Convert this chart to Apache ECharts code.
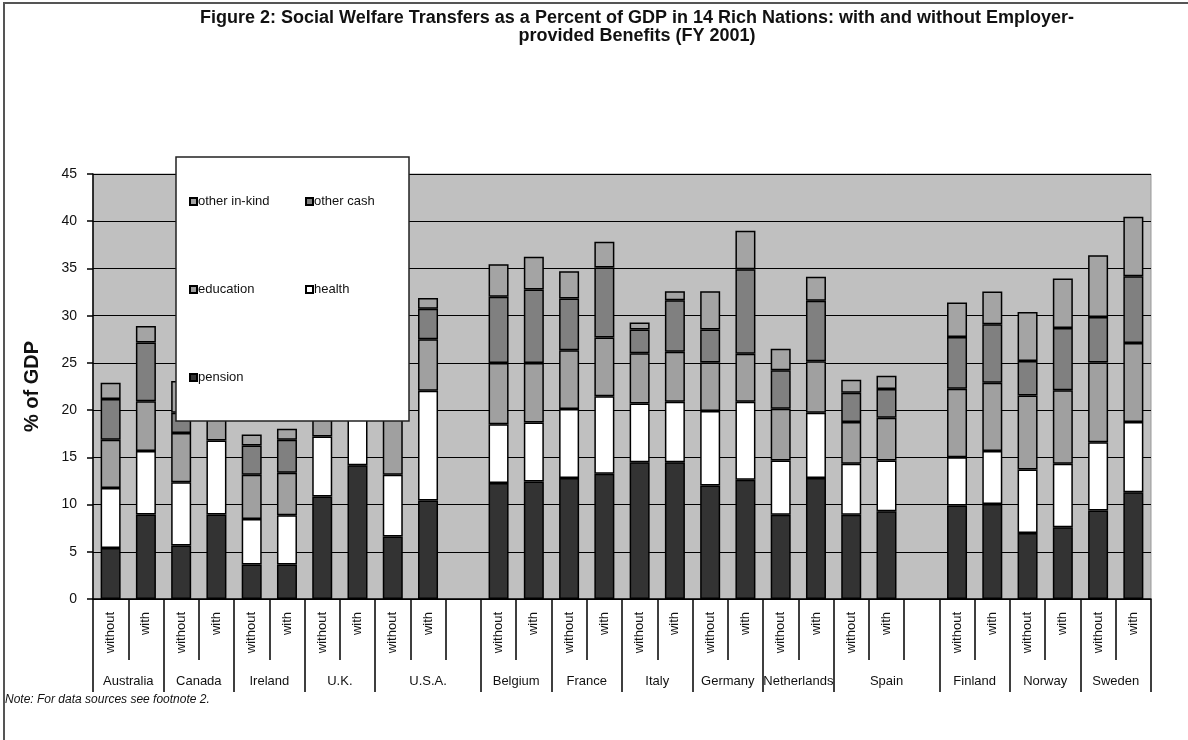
<!DOCTYPE html>
<html>
<head>
<meta charset="utf-8">
<script src="https://cdn.jsdelivr.net/npm/echarts@6/dist/echarts.min.js"></script>
<style>
  html, body { margin: 0; padding: 0; background: #fff; }
  #chart { width: 1188px; height: 740px; }
</style>
</head>
<body>
<div id="chart"></div>
<script>
// Bar slots along the x axis: two per country, plus an empty slot after U.S.A. and Spain
const slotLabels = [
  'without', 'with', 'without', 'with', 'without', 'with', 'without', 'with', 'without', 'with', '',
  'without', 'with', 'without', 'with', 'without', 'with', 'without', 'with', 'without', 'with', 'without', 'with', '',
  'without', 'with', 'without', 'with', 'without', 'with'
];

// Country groups: name and number of slots each spans
const groupNames = ['Australia', 'Canada', 'Ireland', 'U.K.', 'U.S.A.', 'Belgium', 'France', 'Italy',
  'Germany', 'Netherlands', 'Spain', 'Finland', 'Norway', 'Sweden'];
const groupSpans = [2, 2, 2, 2, 3, 2, 2, 2, 2, 2, 3, 2, 2, 2];

// % of GDP by programme (null = empty slot)
const pension = [5.41, 8.94, 5.66, 8.94, 3.64, 3.64, 10.85, 14.17, 6.61, 10.43, null,
  12.27, 12.44, 12.80, 13.26, 14.49, 14.49, 12.02, 12.62, 8.91, 12.80, 8.91, 9.30, null,
  9.90, 10.07, 7.00, 7.60, 9.37, 11.31];
const health = [6.33, 6.72, 6.71, 7.85, 4.84, 5.23, 6.36, 5.30, 6.54, 11.63, null,
  6.22, 6.26, 7.31, 8.20, 6.22, 6.40, 7.88, 8.27, 5.76, 6.92, 5.41, 5.37, null,
  5.12, 5.59, 6.72, 6.72, 7.24, 7.42];
const education = [5.12, 5.27, 5.20, 3.60, 4.67, 4.49, 4.80, 4.80, 6.00, 5.44, null,
  6.50, 6.29, 6.22, 6.22, 5.31, 5.30, 5.13, 5.09, 5.48, 5.45, 4.41, 4.52, null,
  7.25, 7.25, 7.84, 7.77, 8.42, 8.38];
const otherCash = [4.31, 6.22, 2.15, 4.00, 3.11, 3.50, 3.00, 3.20, 2.00, 3.22, null,
  7.00, 7.78, 5.48, 7.42, 2.51, 5.45, 3.50, 8.94, 4.06, 6.40, 3.12, 3.04, null,
  5.48, 6.18, 3.64, 6.61, 4.84, 7.07];
const otherInKind = [1.73, 1.75, 3.36, 1.60, 1.17, 1.17, 1.20, 1.30, 0.80, 1.16, null,
  3.46, 3.46, 2.90, 2.72, 0.74, 0.95, 4.06, 4.07, 2.30, 2.54, 1.37, 1.42, null,
  3.64, 3.47, 5.20, 5.23, 6.54, 6.29];

const yTicks = [0, 5, 10, 15, 20, 25, 30, 35, 40, 45];

const FONT = "'Liberation Sans', Arial, sans-serif";
const INK = '#111';

// Half-slot axis used for the country row: centred names and group dividers
const halfCount = slotLabels.length * 2;
const groupAxisData = new Array(halfCount + 1).fill('');
const groupBoundaries = new Set([0]);
let pos = 0;
groupNames.forEach((name, i) => {
  groupAxisData[pos * 2 + groupSpans[i]] = name;
  pos += groupSpans[i];
  groupBoundaries.add(pos * 2);
});

const seriesDefs = [
  { name: 'pension', data: pension, color: '#333333' },
  { name: 'health', data: health, color: '#ffffff' },
  { name: 'education', data: education, color: '#a0a0a0' },
  { name: 'other cash', data: otherCash, color: '#808080' },
  { name: 'other in-kind', data: otherInKind, color: '#a4a4a4' }
];

const series = seriesDefs.map(s => ({
  name: s.name,
  type: 'bar',
  stack: 'total',
  barWidth: 20,
  data: s.data,
  itemStyle: { color: s.color, borderColor: '#000', borderWidth: 1.5 },
  emphasis: { disabled: true },
  animation: false
}));

// Legend entries placed inside the white box
const legendSpots = [
  { name: 'other in-kind', left: 189, top: 195 },
  { name: 'other cash', left: 305, top: 195 },
  { name: 'education', left: 189, top: 283 },
  { name: 'health', left: 305, top: 283 },
  { name: 'pension', left: 189, top: 371 }
];
const legends = legendSpots.map(l => ({
  data: [l.name],
  left: l.left,
  top: l.top,
  padding: 0,
  itemWidth: 7,
  itemHeight: 7,
  itemGap: 0,
  icon: 'rect',
  selectedMode: false,
  z: 101,
  textStyle: { fontFamily: FONT, fontSize: 13, color: INK, padding: [0, 0, 0, -4] }
}));

const chart = echarts.init(document.getElementById('chart'), null, { renderer: 'canvas' });
chart.setOption({
  backgroundColor: '#ffffff',
  animation: false,
  legend: legends,
  grid: {
    left: 93, right: 37, top: 174, bottom: 141,
    show: true, backgroundColor: '#c0c0c0', borderColor: '#999', borderWidth: 1
  },
  xAxis: [
    {
      type: 'category',
      data: slotLabels,
      position: 'bottom',
      axisLine: { show: true, lineStyle: { color: '#000', width: 1.5 } },
      axisTick: { show: true, interval: 0, length: 61, lineStyle: { color: '#000', width: 1.5 } },
      axisLabel: { interval: 0, rotate: 90, margin: 13, fontFamily: FONT, fontSize: 13, color: INK },
      splitLine: { show: false }
    },
    {
      type: 'category',
      data: groupAxisData,
      boundaryGap: false,
      position: 'bottom',
      axisLine: { show: false },
      axisTick: {
        show: true, length: 93,
        interval: idx => groupBoundaries.has(idx),
        lineStyle: { color: '#000', width: 1.5 }
      },
      axisLabel: { interval: 0, margin: 76, fontFamily: FONT, fontSize: 13, color: INK },
      splitLine: { show: false }
    }
  ],
  yAxis: {
    type: 'value',
    min: yTicks[0],
    max: yTicks[yTicks.length - 1],
    interval: yTicks[1] - yTicks[0],
    name: '% of GDP',
    nameLocation: 'middle',
    nameGap: 51,
    nameTextStyle: { fontFamily: FONT, fontSize: 20, fontWeight: 'bold', color: INK },
    axisLine: { show: true, lineStyle: { color: '#000', width: 1.5 } },
    axisTick: { show: true, length: 6, lineStyle: { color: '#000', width: 1.5 } },
    axisLabel: { margin: 16, fontFamily: FONT, fontSize: 14, color: INK },
    splitLine: { show: true, lineStyle: { color: '#000', width: 1.2 } }
  },
  graphic: [
    {
      type: 'rect', z: 0, silent: true,
      shape: { x: 4, y: 3, width: 1400, height: 900 },
      style: { fill: 'none', stroke: '#555', lineWidth: 2 }
    },
    {
      type: 'rect', z: 100, silent: true,
      shape: { x: 176, y: 157, width: 233, height: 264 },
      style: { fill: '#fff', stroke: '#222', lineWidth: 1.5 }
    },
    {
      type: 'text', z: 100, silent: true,
      x: 637, y: 9,
      style: {
        text: 'Figure 2: Social Welfare Transfers as a Percent of GDP in 14 Rich Nations: with and without Employer-\nprovided Benefits (FY 2001)',
        align: 'center', verticalAlign: 'top', lineHeight: 18,
        font: 'bold 18px ' + FONT, fill: INK
      }
    },
    {
      type: 'text', z: 100, silent: true,
      x: 5, y: 694,
      style: {
        text: 'Note: For data sources see footnote 2.',
        font: 'italic 12px ' + FONT, fill: INK
      }
    }
  ],
  series: series
});
</script>
</body>
</html>
